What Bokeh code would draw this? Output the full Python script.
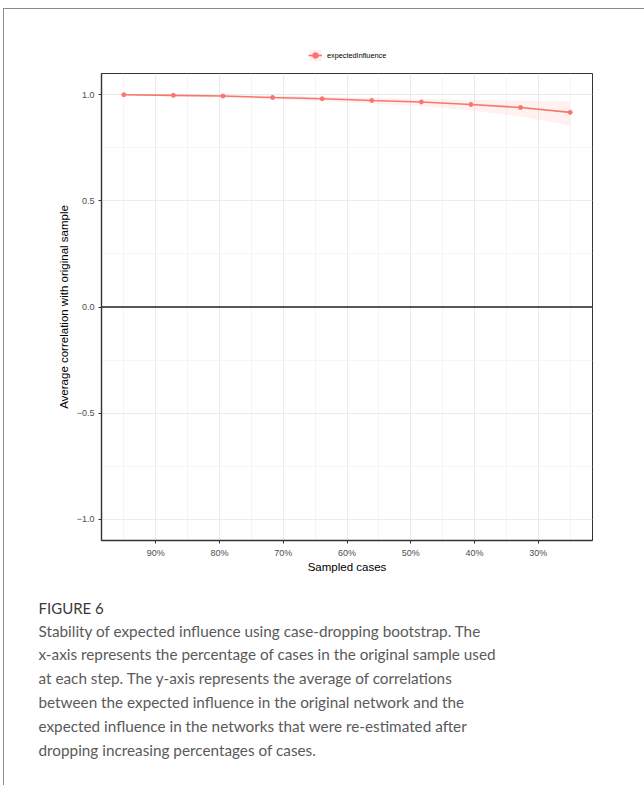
from bokeh.plotting import figure
from bokeh.layouts import column
from bokeh.models import (Range1d, FixedTicker, Span, Legend, LegendItem, Title,
                          ColumnDataSource)
from bokeh.embed import file_html
from bokeh.resources import INLINE

# ---- data ----
sampled = [0.95, 0.8722, 0.7944, 0.7167, 0.6389, 0.5611, 0.4833, 0.4056, 0.3278, 0.25]
mean_cor = [1.000, 0.997, 0.994, 0.987, 0.981, 0.973, 0.966, 0.954, 0.940, 0.917]
lower_q = [0.998, 0.993, 0.987, 0.978, 0.969, 0.957, 0.946, 0.926, 0.898, 0.855]
upper_q = [1.000, 0.999, 0.998, 0.995, 0.991, 0.986, 0.980, 0.976, 0.972, 0.968]
series_name = "expectedInfluence"
x_ticks = [0.9, 0.8, 0.7, 0.6, 0.5, 0.4, 0.3]
x_tick_labels = ["90%", "80%", "70%", "60%", "50%", "40%", "30%"]
x_minor = [0.95, 0.85, 0.75, 0.65, 0.55, 0.45, 0.35, 0.25]
y_ticks = [-1.0, -0.5, 0.0, 0.5, 1.0]
y_tick_labels = ["\u22121.0", "\u22120.5", "0.0", "0.5", "1.0"]
y_minor = [-0.75, -0.25, 0.25, 0.75]
x_title = "Sampled cases"
y_title = "Average correlation with original sample"
fig_label = "FIGURE 6"
caption_lines = [
    "Stability of expected influence using case-dropping bootstrap. The",
    "x-axis represents the percentage of cases in the original sample used",
    "at each step. The y-axis represents the average of correlations",
    "between the expected influence in the original network and the",
    "expected influence in the networks that were re-estimated after",
    "dropping increasing percentages of cases.",
]

RED = "#F8766D"
FONT = "Liberation Sans"
CAP_FONT = "Lato"

PW, PH = 644, 785          # page
OX, OY = 4, 9              # content origin (after margin + 1px rule)
W = PW - OX
FL, FR, FT, FB = 101, 592, 73, 540  # frame edges in page px
LEG_H = FT - 1 - OY        # legend strip height
MAIN_H = PH - OY - LEG_H

src = ColumnDataSource(dict(x=sampled, y=mean_cor, lo=lower_q, hi=upper_q))

# ---------- legend strip (its data sits outside the visible range; only the key shows) ----------
lf = figure(width=W, height=LEG_H, output_backend="svg", toolbar_location=None,
            x_range=Range1d(10, 11), y_range=Range1d(10, 11),
            min_border_left=FL - OX, min_border_right=PW - FR,
            min_border_top=0, min_border_bottom=0)
lf.axis.visible = False
lf.grid.visible = False
lf.outline_line_color = None
lf.border_fill_color = "white"
lf.background_fill_color = "white"
kb = lf.varea(x="x", y1="lo", y2="hi", source=src, fill_color=RED, fill_alpha=0.12)
kl = lf.line(x="x", y="y", source=src, line_color=RED, line_width=1.6)
kp = lf.scatter(x="x", y="y", source=src, size=4, fill_color=RED, line_color=RED)
legend = Legend(items=[LegendItem(label=series_name, renderers=[kb, kl, kp])],
                location=(207, 10), orientation="horizontal",
                glyph_width=14, glyph_height=14, label_standoff=5, padding=2,
                margin=0, border_line_color=None, background_fill_alpha=0,
                label_text_font=FONT, label_text_font_size="7.3px",
                label_text_color="black", label_height=14)
lf.add_layout(legend, "center")

# ---------- main chart ----------
p = figure(width=W, height=MAIN_H, output_backend="svg", toolbar_location=None,
           x_range=Range1d(0.985, 0.215), y_range=Range1d(-1.1, 1.1),
           min_border_left=FL - OX, min_border_right=PW - FR,
           min_border_top=1, min_border_bottom=PH - FB)
p.background_fill_color = "white"
p.border_fill_color = "white"
p.outline_line_color = "#333333"
p.outline_line_width = 1

p.varea(x="x", y1="lo", y2="hi", source=src, fill_color=RED, fill_alpha=0.1)
p.line(x="x", y="y", source=src, line_color=RED, line_width=1.6)
p.scatter(x="x", y="y", source=src, size=4, fill_color=RED, line_color=RED)

p.add_layout(Span(location=0, dimension="width", line_color="#222222", line_width=1.3))

p.xaxis.ticker = FixedTicker(ticks=x_ticks, minor_ticks=x_minor)
p.xaxis.major_label_overrides = {t: l for t, l in zip(x_ticks, x_tick_labels)}
p.yaxis.ticker = FixedTicker(ticks=y_ticks, minor_ticks=y_minor)
p.yaxis.major_label_overrides = {t: l for t, l in zip(y_ticks, y_tick_labels)}
for ax in (p.xaxis, p.yaxis):
    ax.axis_line_color = "#333333"
    ax.axis_line_width = 1.4
    ax.major_tick_in = 0
    ax.major_tick_out = 3
    ax.major_tick_line_color = "#333333"
    ax.minor_tick_line_color = None
    ax.major_label_text_font = FONT
    ax.major_label_text_font_size = "9px"
    ax.major_label_text_color = "#4D4D4D"
    ax.axis_label_text_font = FONT
    ax.axis_label_text_font_size = "11.5px"
    ax.axis_label_text_font_style = "normal"
    ax.axis_label_text_color = "black"
    ax.major_label_standoff = 3
p.xaxis.axis_label = x_title
p.yaxis.axis_label = y_title
p.xaxis.axis_label_standoff = 0
p.yaxis.axis_label_standoff = 4

for g in (p.xgrid, p.ygrid):
    g.grid_line_color = "#EBEBEB"
    g.grid_line_width = 1
    g.minor_grid_line_color = "#F2F2F2"
    g.minor_grid_line_width = 0.8

# caption as titles below the x axis (a blank spacer first)
CAP_X = 38
p.add_layout(Title(text=" ", align="left", text_font=CAP_FONT, text_font_size="10px",
                   standoff=5), "below")
p.add_layout(Title(text=fig_label, align="left", offset=CAP_X - FL,
                   text_font=CAP_FONT, text_font_size="15px", text_font_style="normal",
                   text_color="#3A3A3A", standoff=4), "below")
for i, line in enumerate(caption_lines):
    p.add_layout(Title(text=line, align="left", offset=CAP_X - FL,
                       text_font=CAP_FONT, text_font_size="15.3px",
                       text_font_style="normal", text_color="#5A5A5A",
                       standoff=1.5 if i == 0 else 3.5), "below")

page = column(lf, p, margin=(8, 0, 0, 3), spacing=0,
              styles={"border-top": "1px solid #8C8C8C",
                      "border-left": "1px solid #8C8C8C",
                      "background-color": "white"})

open("out.html", "w").write(file_html(page, INLINE))
